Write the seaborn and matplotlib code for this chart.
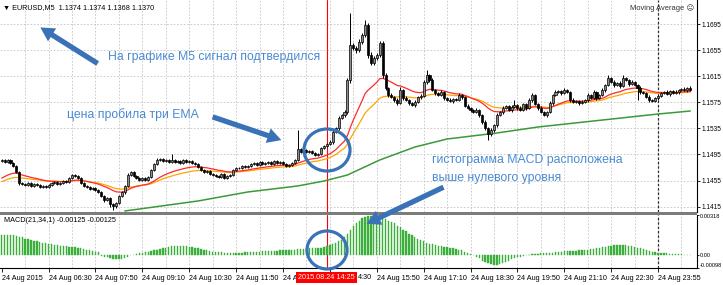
import numpy as np
import pandas as pd
import matplotlib
matplotlib.use("Agg")
import matplotlib.pyplot as plt
import seaborn as sns
from matplotlib.patches import Ellipse, Rectangle, FancyArrowPatch

# ---------------- data ----------------
first_open = 1.14850
close = [
    1.14865, 1.14835, 1.14865, 1.14819, 1.14773, 1.14681, 1.14513, 1.14497, 1.14482, 1.14513,
    1.14467, 1.14497, 1.14482, 1.14451, 1.14467, 1.14451, 1.14482, 1.14513, 1.14528, 1.14497,
    1.14513, 1.14543, 1.14528, 1.14589, 1.14635, 1.14620, 1.14589, 1.14513, 1.14467, 1.14451,
    1.14421, 1.14436, 1.14406, 1.14375, 1.14314, 1.14252, 1.14283, 1.14191, 1.14160, 1.14206,
    1.14314, 1.14375, 1.14467, 1.14635, 1.14681, 1.14620, 1.14589, 1.14559, 1.14589, 1.14559,
    1.14605, 1.14712, 1.14804, 1.14865, 1.14880, 1.14850, 1.14865, 1.14835, 1.14865, 1.14835,
    1.14850, 1.14819, 1.14865, 1.14835, 1.14850, 1.14819, 1.14804, 1.14758, 1.14712, 1.14681,
    1.14697, 1.14651, 1.14635, 1.14620, 1.14605, 1.14651, 1.14589, 1.14620, 1.14635, 1.14712,
    1.14743, 1.14743, 1.14773, 1.14758, 1.14773, 1.14804, 1.14819, 1.14788, 1.14835, 1.14804,
    1.14819, 1.14835, 1.14804, 1.14850, 1.14819, 1.14835, 1.14804, 1.14773, 1.14788, 1.14819,
    1.14865, 1.15034, 1.14987, 1.15018, 1.14987, 1.15003, 1.14972, 1.14942, 1.14957, 1.15049,
    1.15080, 1.15110, 1.15141, 1.15294, 1.15356, 1.15509, 1.15555, 1.15601, 1.16092, 1.16628,
    1.16582, 1.16552, 1.16674, 1.16781, 1.16935, 1.16475, 1.16352, 1.16429, 1.16475, 1.16659,
    1.16168, 1.15969, 1.15862, 1.15831, 1.15785, 1.15739, 1.15938, 1.15816, 1.15785, 1.15739,
    1.15708, 1.15754, 1.15831, 1.15846, 1.16061, 1.16168, 1.16092, 1.15938, 1.15892, 1.15862,
    1.15908, 1.15816, 1.15785, 1.15770, 1.15800, 1.15785, 1.15862, 1.15831, 1.15693, 1.15662,
    1.15632, 1.15601, 1.15632, 1.15555, 1.15448, 1.15356, 1.15264, 1.15325, 1.15402, 1.15555,
    1.15601, 1.15662, 1.15693, 1.15632, 1.15678, 1.15708, 1.15662, 1.15632, 1.15724, 1.15662,
    1.15785, 1.15862, 1.15724, 1.15662, 1.15601, 1.15555, 1.15601, 1.15739, 1.15862, 1.15908,
    1.15923, 1.15892, 1.15938, 1.15908, 1.15785, 1.15754, 1.15770, 1.15739, 1.15754, 1.15785,
    1.15862, 1.15816, 1.15908, 1.15816, 1.15862, 1.15938, 1.16015, 1.16122, 1.16061, 1.16015,
    1.16046, 1.16000, 1.16122, 1.16092, 1.16030, 1.16061, 1.16015, 1.15969, 1.15908, 1.15892,
    1.15831, 1.15785, 1.15770, 1.15816, 1.15846, 1.15892, 1.15908, 1.15877, 1.15923, 1.15892,
    1.15908, 1.15938, 1.15954, 1.15938, 1.15969, 1.15938,
]
upper_wick_pips = [
    2, 1, 2, 1, 2, 1, 2, 1, 1, 2,  1, 2, 1, 1, 2, 1, 1, 2, 1, 2,
    1, 2, 1, 2, 1, 1, 2, 1, 1, 2,  1, 2, 1, 1, 2, 1, 2, 1, 1, 2,
    1, 2, 2, 3, 2, 1, 2, 1, 2, 1,  2, 2, 1, 3, 2, 1, 2, 1, 9, 2,
    1, 2, 1, 2, 1, 2, 1, 2, 1, 1,  2, 1, 2, 1, 1, 2, 1, 2, 1, 2,
    1, 2, 1, 2, 1, 1, 2, 1, 2, 1,  2, 1, 2, 1, 2, 1, 2, 1, 1, 2,
    2, 29, 2, 2, 1, 2, 1, 2, 2, 2,  2, 2, 3, 3, 2, 3, 2, 3, 3, 49,
    3, 3, 4, 3, 8, 3, 4, 3, 3, 3,  3, 3, 2, 3, 2, 3, 5, 2, 3, 2,
    2, 3, 2, 3, 3, 8, 2, 3, 2, 2,  3, 2, 2, 3, 2, 2, 3, 2, 2, 3,
    2, 2, 3, 2, 2, 3, 2, 3, 2, 3,  2, 3, 2, 2, 3, 8, 2, 3, 2, 2,
    3, 3, 2, 2, 3, 2, 2, 3, 2, 3,  2, 2, 3, 2, 2, 3, 2, 2, 3, 2,
    3, 2, 3, 2, 2, 3, 2, 5, 2, 3,  2, 3, 4, 2, 2, 3, 2, 2, 3, 2,
    2, 3, 2, 2, 3, 2, 2, 3, 2, 2,  3, 2, 2, 3, 2, 3,
]
lower_wick_pips = [
    1, 2, 1, 2, 1, 2, 3, 1, 2, 1,  2, 1, 1, 2, 1, 2, 1, 1, 2, 1,
    2, 1, 2, 1, 2, 1, 1, 2, 1, 2,  1, 2, 1, 2, 2, 3, 2, 5, 6, 3,
    2, 2, 3, 2, 2, 1, 2, 2, 1, 2,  1, 2, 2, 1, 2, 1, 2, 1, 2, 1,
    2, 1, 2, 1, 2, 1, 2, 1, 2, 1,  1, 2, 1, 2, 1, 2, 1, 1, 2, 1,
    2, 1, 2, 1, 1, 2, 1, 2, 1, 2,  1, 2, 1, 2, 1, 2, 1, 2, 1, 1,
    1, 2, 2, 1, 2, 2, 1, 2, 2, 1,  2, 2, 2, 3, 2, 3, 2, 3, 3, 4,
    3, 4, 3, 3, 3, 4, 3, 3, 3, 3,  4, 3, 3, 2, 3, 3, 2, 3, 2, 3,
    2, 3, 2, 3, 2, 3, 3, 2, 3, 2,  2, 3, 2, 2, 3, 2, 2, 3, 2, 2,
    3, 2, 2, 3, 3, 3, 9, 3, 3, 3,  2, 3, 2, 2, 3, 2, 3, 2, 2, 3,
    2, 3, 2, 3, 2, 2, 3, 2, 3, 2,  2, 3, 2, 2, 3, 2, 2, 3, 2, 2,
    3, 2, 2, 3, 2, 2, 3, 2, 2, 3,  2, 3, 2, 2, 3, 2, 2, 18, 3, 2,
    2, 3, 2, 2, 3, 2, 2, 2, 3, 2,  2, 3, 2, 2, 3, 2,
]
macd = [
    0.0016, 0.0016, 0.00162, 0.0016, 0.00158, 0.0015, 0.00145, 0.0014,
    0.0013, 0.00125, 0.0012, 0.00115, 0.0011, 0.00105, 0.001, 0.00095,
    0.0009, 0.00085, 0.0008, 0.0008, 0.00075, 0.0007, 0.0007, 0.00068, 0.00066, 0.00064, 0.0006, 0.00055, 0.0005,
    0.00045, 0.0004, 0.00035, 0.0003, 0.00025,
    -0.00005, -0.0001, -0.00015, -0.0002, -0.00025, -0.0003, -0.0003, -0.00025, -0.0002,
    -0.0001, 0.0, 0.00005, 0.0001, 0.00015,
    0.0002, 0.00025, 0.0003, 0.00035, 0.0004, 0.00045, 0.0005,
    0.00055, 0.0006, 0.00065, 0.0007, 0.0007, 0.00072, 0.00072, 0.0007, 0.0007, 0.00068, 0.00065, 0.0006, 0.00055,
    0.0005, 0.00045, 0.0004, 0.00035, 0.0003, 0.0003, 0.00025, 0.00025, 0.0002, 0.0002, 0.0002, 0.0002,
    0.0002, 0.0002, 0.00022, 0.00025, 0.00025, 0.00028, 0.0003, 0.0003, 0.0003, 0.00032, 0.00032, 0.00035,
    0.00035, 0.00035, 0.00038, 0.0004,
    0.0004, 0.0004, 0.00042, 0.00042, 0.00045, 0.0005, 0.0005, 0.00052, 0.00052, 0.00055, 0.00055, 0.00055,
    0.00058, 0.0006,
    0.00065, 0.0007, 0.0008, 0.0009, 0.001, 0.0011, 0.0012,
    0.0014, 0.0017, 0.002, 0.0023, 0.0025, 0.0027,
    0.0029, 0.003, 0.00305, 0.0031, 0.0031, 0.00305, 0.003,
    0.0029, 0.0028, 0.0027, 0.0026, 0.0025, 0.0023, 0.0022, 0.002,
    0.0019, 0.0017, 0.0016, 0.0014, 0.0013, 0.0012, 0.0011,
    0.001, 0.0009, 0.00085, 0.0008, 0.00075, 0.0007, 0.00068,
    0.00065, 0.0006, 0.00055, 0.0005, 0.00045, 0.0004, 0.0003, 0.0002, 0.0001,
    0.0, -0.0001, -0.0002, -0.0004, -0.0005,
    -0.0006, -0.0007, -0.00075, -0.00075,
    -0.0007, -0.0006, -0.0005, -0.0004, -0.0003, -0.0002, -0.00015,
    -0.0001, -0.00005, 0.0, 0.00005, 0.0001, 0.0001, 0.00012, 0.00015, 0.00018, 0.0002, 0.0002, 0.00022, 0.00025,
    0.0003, 0.0003, 0.00032, 0.00035, 0.00035, 0.00035, 0.00038, 0.0004, 0.0004, 0.00042, 0.00045, 0.00048,
    0.0005, 0.00055, 0.0006, 0.00062, 0.00065,
    0.0007, 0.00075, 0.0008, 0.0008, 0.0008, 0.0008, 0.00078, 0.00075, 0.0007, 0.00065, 0.0006, 0.00055, 0.0005,
    0.0004, 0.00035, 0.0003, 0.00025,
    0.0002, 0.0002, 0.00015, 0.00015, 0.0001, 0.0001, 0.0001, 0.00008, 0.00008, 0.00005, 0.00005, 0.00005,
]
ema_fast_seed = 1.14560
ema_slow_seed = 1.14513
green_idx = [42, 47, 67, 84, 101, 110, 118, 129, 141, 152, 169, 183, 205, 224, 235]
green_val = [1.14084, 1.14114, 1.14237, 1.14375, 1.14467, 1.14543, 1.14635, 1.14865,
             1.15064, 1.15187, 1.15279, 1.15371, 1.15478, 1.15570, 1.15616]
price_ticks = [1.1415, 1.1455, 1.1495, 1.1535, 1.1575, 1.1615, 1.1655, 1.1695]
macd_ticks = [-0.00098, 0.0, 0.00318]
macd_tick_labels = ["-0.00098", "0.00", "0.00318"]
time_idx = [0, 16, 32, 48, 64, 80, 96, 112, 128, 144, 160, 176, 192, 208, 224]
# labels at 96 and 112 are mostly hidden behind the red cursor label in the reference
time_labels = ["24 Aug 2015", "24 Aug 06:30", "24 Aug 07:50", "24 Aug 09:10", "24 Aug 10:30",
               "24 Aug 11:50", "24 A", "", "24 Aug 15:50", "24 Aug 17:10",
               "24 Aug 18:30", "24 Aug 19:50", "24 Aug 21:10", "24 Aug 22:30", "24 Aug 23:55"]
hidden_label_tail = "4:30"
signal_idx = 111
signal_label = "2015.08.24 14:25"
cursor_idx = 224

# ---------------- derived ----------------
c = np.array(close)
o = np.array([first_open] + close[:-1])
hi = np.maximum(o, c) + np.array(upper_wick_pips) / 10000.0
lo = np.minimum(o, c) - np.array(lower_wick_pips) / 10000.0
idx = np.arange(len(c))
ema_fast = pd.Series([ema_fast_seed] + close).ewm(span=21, adjust=False).mean().iloc[1:].values
ema_slow = pd.Series([ema_slow_seed] + close).ewm(span=34, adjust=False).mean().iloc[1:].values
df = pd.DataFrame({"bar": idx, "ema21": ema_fast, "ema34": ema_slow})
gdf = pd.DataFrame({"bar": green_idx, "ema": green_val})
mdf = pd.DataFrame({"bar": np.arange(len(macd)), "macd": macd})

# ---------------- figure ----------------
sns.set_theme(style="white")
plt.rcParams["font.family"] = ["Liberation Sans", "DejaVu Sans"]

W, H = 723, 285
fig = plt.figure(figsize=(W / 100, H / 100), dpi=100)
fig.patch.set_facecolor("white")


def fax(x0, y0, x1, y1):
    return [x0 / W, 1 - y1 / H, (x1 - x0) / W, (y1 - y0) / H]


XL = (-0.58, 237.3)
GRID = "#c4c4c4"
ax = fig.add_axes(fax(0, 0, 697, 212))
axm = fig.add_axes(fax(0, 214.5, 697, 268))

for a in (ax, axm):
    a.set_facecolor("white")
    a.set_xlim(*XL)
    for s in ("left", "top", "bottom"):
        a.spines[s].set_visible(False)
    a.spines["right"].set_color("black")
    a.spines["right"].set_linewidth(0.8)
    for g in range(8, 237, 8):
        a.axvline(g, color=GRID, lw=0.6, ls=(0, (2, 2)), zorder=0)
    a.axvline(signal_idx, color="#ff0000", lw=0.8, zorder=1)
    a.axvline(cursor_idx, color="#303030", lw=0.9, ls=(0, (2, 1.5)), zorder=1)

# price panel
ax.set_ylim(1.14068, 1.17318)
for p in price_ticks:
    ax.axhline(p, color=GRID, lw=0.6, ls=(0, (2, 2)), zorder=0)
sns.lineplot(data=gdf, x="bar", y="ema", color="#3a9a3a", lw=1.1, ax=ax, legend=False, zorder=2)
sns.lineplot(data=df, x="bar", y="ema34", color="#ffa500", lw=0.9, ax=ax, legend=False, zorder=2)
sns.lineplot(data=df, x="bar", y="ema21", color="#ff2a2a", lw=0.9, ax=ax, legend=False, zorder=2)
up = c >= o
ax.vlines(idx, lo, hi, color="black", lw=0.7, zorder=3)
ax.bar(idx[up], (c - o)[up], bottom=o[up], width=0.7, color="#8c8c8c",
       edgecolor="black", lw=0.5, zorder=4)
ax.bar(idx[~up], (o - c)[~up], bottom=c[~up], width=0.7, color="black",
       edgecolor="black", lw=0.5, zorder=4)
ax.set_xlabel("")
ax.set_ylabel("")
ax.set_xticks([])
ax.yaxis.tick_right()
ax.set_yticks(price_ticks)
ax.set_yticklabels([f"{p:.4f}" for p in price_ticks])
ax.tick_params(axis="y", right=True, length=2, width=0.6, pad=1.2, labelsize=4.7,
               colors="black", direction="out")

# MACD panel
axm.set_ylim(-0.00098, 0.00318)
axm.bar(mdf["bar"], mdf["macd"], width=0.45, color="#3cae3c", edgecolor="#3cae3c", lw=0.3, zorder=2)
axm.spines["bottom"].set_visible(True)
axm.spines["bottom"].set_color("black")
axm.spines["bottom"].set_linewidth(0.8)
axm.yaxis.tick_right()
axm.set_yticks(macd_ticks)
axm.set_yticklabels(macd_tick_labels)
for lab, va in zip(axm.get_yticklabels(), ["bottom", "center", "top"]):
    lab.set_va(va)
axm.tick_params(axis="y", right=True, length=1.5, width=0.6, pad=0.8, labelsize=4.1, colors="black")
axm.set_xticks(time_idx)
axm.set_xticklabels(time_labels, ha="left")
axm.tick_params(axis="x", bottom=True, length=3, width=0.6, pad=2, labelsize=5.2, colors="black")
axm.set_xlabel("")
axm.set_ylabel("")

# ---------------- overlay (texts, arrows, circles) ----------------
ov = fig.add_axes([0, 0, 1, 1], zorder=10)
ov.set_xlim(0, W)
ov.set_ylim(H, 0)
ov.axis("off")
ov.patch.set_alpha(0)

ov.add_patch(Rectangle((0, 211.8), 697, 2.8, color="#7c7c7c", lw=0))
ov.text(3, 7.5, "\u25BC EURUSD,M5  1.1374 1.1374 1.1368 1.1370", fontsize=5.2, va="center", ha="left",
        color="black")
ov.text(694, 8, "Moving Average \u2639", fontsize=5.4, va="center", ha="right", color="#303030")
ov.text(4, 221, "MACD(21,34,1) -0.00125 -0.00125", fontsize=5.2, va="center", ha="left", color="black")
ov.text(326.5, 277.5, signal_label, fontsize=5.2, va="center", ha="center", color="white",
        bbox=dict(boxstyle="square,pad=0.25", fc="#ff0000", ec="none"))
ov.text(357.5, 277.5, hidden_label_tail, fontsize=5.2, va="center", ha="left", color="black")

TXT = "#4a8ad2"
ARW = "#3a72b8"
ov.text(108, 57, "На графике М5 сигнал подтвердился", fontsize=8.8, color=TXT, va="center", ha="left")
ov.text(67, 115, "цена пробила три ЕМА", fontsize=8.8, color=TXT, va="center", ha="left")
ov.text(432, 160, "гистограмма MACD расположена", fontsize=8.8, color=TXT, va="center", ha="left")
ov.text(432, 178, "выше нулевого уровня", fontsize=8.8, color=TXT, va="center", ha="left")

for (x0, y0), (x1, y1) in [((100, 65), (38, 26)), ((210, 116), (284, 141)), ((446, 186), (364, 225))]:
    ov.add_patch(FancyArrowPatch((x0, y0), (x1, y1),
                                 arrowstyle="simple,head_width=1.1,head_length=1.0,tail_width=0.38",
                                 mutation_scale=10, color=ARW, lw=0, zorder=5))
ov.add_patch(Ellipse((327, 150), 46, 42, fill=False, ec=ARW, lw=2.3))
ov.add_patch(Ellipse((327, 250), 40, 38, fill=False, ec=ARW, lw=2.3))

fig.savefig("out.png", dpi=100, facecolor="white")
